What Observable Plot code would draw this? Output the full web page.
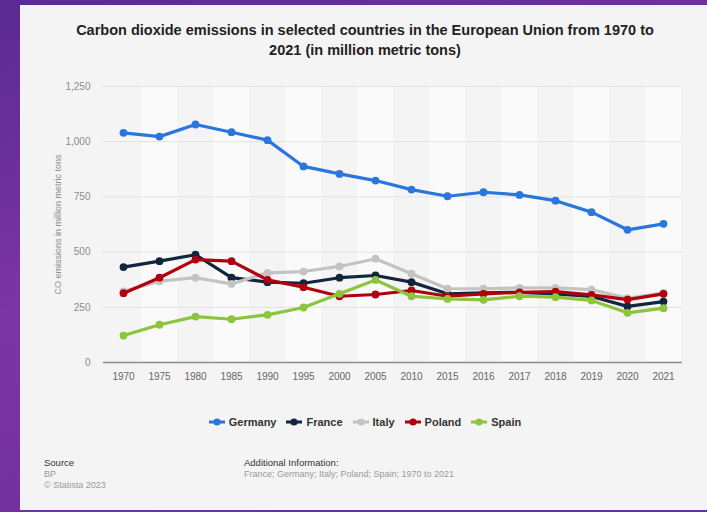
<!DOCTYPE html>
<html>
<head>
<meta charset="utf-8">
<script src="https://cdn.jsdelivr.net/npm/d3@7"></script>
<script src="https://cdn.jsdelivr.net/npm/@observablehq/plot@0.6"></script>
<style>
  html, body { margin: 0; padding: 0; }
  body {
    width: 707px; height: 512px; overflow: hidden; position: relative;
    background: linear-gradient(165deg, #5a2a92 0%, #7b35a4 45%, #6a2e9b 100%);
    font-family: "Liberation Sans", Arial, Helvetica, sans-serif;
  }
  #card { position: absolute; left: 20px; top: 5px; width: 700px; height: 505px; background: #f4f4f4; }
  #title {
    position: absolute; left: 20px; top: 20px; width: 690px; text-align: center;
    font-size: 14.5px; font-weight: bold; line-height: 20px; color: #222;
  }
  #chart { position: absolute; left: 0; top: 70px; }
  #legend {
    position: absolute; left: 20px; top: 414px; width: 690px;
    display: flex; justify-content: center; gap: 10px;
    font-size: 11px; font-weight: bold; color: #333; line-height: 16px;
  }
  #legend .item { display: flex; align-items: center; gap: 4px; }
  .foot { position: absolute; font-size: 9px; line-height: 11px; color: #9a9a9a; }
  .foot b { font-weight: normal; color: #333; font-size: 9.5px; }
</style>
</head>
<body>
<div id="card"></div>
<div id="title">Carbon dioxide emissions in selected countries in the European Union from 1970 to<br>2021 (in million metric tons)</div>
<div id="chart"></div>
<div id="legend"></div>
<div class="foot" style="left:44px; top:457px;"><b>Source</b><br>BP<br>© Statista 2023</div>
<div class="foot" style="left:244px; top:457px;"><b>Additional Information:</b><br>France; Germany; Italy; Poland; Spain; 1970 to 2021</div>
<script>
// Years shown on the category axis
const years = ["1970","1975","1980","1985","1990","1995","2000","2005","2010","2015","2016","2017","2018","2019","2020","2021"];

// Emissions per country, million metric tons
const germany = [1040, 1023, 1078, 1043, 1007, 888, 854, 824, 783, 753, 771, 759, 733, 681, 601, 628];
const france  = [432, 459, 488, 384, 364, 359, 384, 394, 364, 311, 316, 318, 311, 299, 254, 276];
const italy   = [322, 368, 384, 356, 406, 412, 435, 470, 402, 334, 334, 338, 338, 330, 291, 315];
const poland  = [314, 384, 466, 459, 374, 341, 300, 308, 326, 300, 311, 318, 321, 306, 285, 311];
const spain   = [122, 171, 208, 196, 216, 249, 311, 374, 300, 288, 284, 300, 296, 281, 225, 246];

const countries = ["Germany", "France", "Italy", "Poland", "Spain"];
const colors = ["#2a76dd", "#10263f", "#c3c3c3", "#b0000e", "#8cc43c"];
const seriesValues = [germany, france, italy, poland, spain];

const yTicks = [0, 250, 500, 750, 1000, 1250];

const rows = countries.map((c, k) => years.map((y, i) => ({country: c, year: y, value: seriesValues[k][i]})));

// One line + dots per country, in legend order so later series sit on top
const seriesMarks = rows.flatMap((data, k) => [
  Plot.lineY(data, {x: "year", y: "value", stroke: colors[k], strokeWidth: 3.2, strokeLinejoin: "round"}),
  Plot.dot(data, {x: "year", y: "value", fill: colors[k], r: 3.9})
]);

const chart = Plot.plot({
  width: 707,
  height: 320,
  marginLeft: 103,
  marginRight: 25,
  marginTop: 16,
  marginBottom: 28,
  style: {background: "transparent", fontFamily: "Liberation Sans, Arial, sans-serif", overflow: "visible"},
  x: {type: "band", domain: years, padding: 0},
  y: {domain: [0, 1250]},
  marks: [
    // alternating column shading
    Plot.barY(years.filter((d, i) => i % 2 === 1), {x: d => d, y1: 0, y2: 1250, fill: "#fafafa"}),
    Plot.gridY(yTicks.filter(d => d > 0), {stroke: "#e2e2e2", strokeOpacity: 1, strokeWidth: 1}),
    Plot.ruleY([0], {stroke: "#8a8a8a", strokeWidth: 1.5}),
    Plot.axisY({ticks: yTicks, tickFormat: d3.format(","), tickSize: 0, tickPadding: 13, fontSize: 10, fill: "#8c8c8c", label: null}),
    Plot.text(["CO emissions in million metric tons"], {frameAnchor: "left", dx: -45, rotate: -90, textAnchor: "middle", fontSize: 9, fill: "#8c8c8c"}),
    Plot.axisX({tickSize: 0, tickPadding: 10, fontSize: 10, fill: "#666", label: null}),
    ...seriesMarks
  ]
});
document.getElementById("chart").appendChild(chart);

// Legend: line-and-dot swatch for each country
const legend = document.getElementById("legend");
countries.forEach((c, k) => {
  const item = document.createElement("div");
  item.className = "item";
  item.innerHTML = `<svg width="16" height="8"><line x1="0" x2="16" y1="4" y2="4" stroke="${colors[k]}" stroke-width="3"/><circle cx="8" cy="4" r="3.6" fill="${colors[k]}"/></svg><span>${c}</span>`;
  legend.appendChild(item);
});
</script>
</body>
</html>
